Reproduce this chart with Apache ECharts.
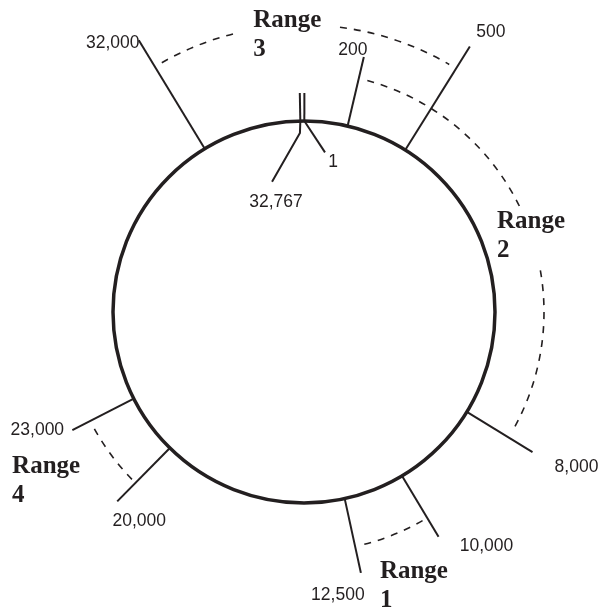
<!DOCTYPE html>
<html>
<head>
<meta charset="utf-8">
<script src="https://cdn.jsdelivr.net/npm/echarts@6/dist/echarts.min.js"></script>
<style>
  html, body { margin: 0; padding: 0; background: #fff; }
  #chart { width: 602px; height: 610px; }
</style>
</head>
<body>
<div id="chart"></div>
<script>
// ---- Data (dial positions; angle in degrees clockwise from top) ----
const tickLabels = ['1', '200', '500', '8,000', '10,000', '12,500', '20,000', '23,000', '32,000', '32,767'];
const tickAngles = [0.1, 13.2, 32.0, 121.5, 149.1, 167.7, 224.6, 243.0, 328.7, 358.9];
const tickOuterRadius = [219, 262, 313, 268, 262, 267, 266, 260, 318, 219];

// leader lines that run inside the ring for the wrap-around point
const leaderLabels = ['1', '32,767'];
const leaderPaths = [
  [[191, 0.1], [161, 7.5]],
  [[191, 358.9], [179, 358.7], [134, 346.2]]
];

const rangeNames = ['Range\n1', 'Range\n2', 'Range\n3', 'Range\n4'];
const rangeRadius = [240, 240, 287, 240];
const rangeStart = [150.4, 15.3, 330.3, 225.8];
const rangeEnd = [165.8, 119.2, 30.4, 241.4];
const rangeGapStart = [null, 64, 346.5, null];
const rangeGapEnd = [null, 80, 7.2, null];
// where each range label sits (radius, angle)
const rangeLabelRadius = [270.4, 213.2, 295.4, 330.3];
const rangeLabelAngle = [163.7, 64.9, 350.1, 242.1];

const RING_RADIUS = 191;

// ---- Styles ----
const INK = '#231f20';
const labelOffsets = {
  '1': [8, 10], '200': [-11, -7], '500': [21, -14], '8,000': [44, 15],
  '10,000': [48, 9], '12,500': [-23, 22], '20,000': [22, 20], '23,000': [-35, 0],
  '32,000': [-26, 3], '32,767': [4, 20]
};
const tickFont = '17.5px "Liberation Sans", Arial, sans-serif';
const rangeFont = 'bold 25px "Liberation Serif", "Times New Roman", serif';

const chart = echarts.init(document.getElementById('chart'), null, { renderer: 'canvas' });

function screenArc(api, r, a0, a1, style) {
  const c = api.coord([0, 0]);
  const p0 = api.coord([r, a0]);
  const p1 = api.coord([r, a1]);
  const rp = Math.hypot(p0[0] - c[0], p0[1] - c[1]);
  return {
    type: 'arc',
    shape: {
      cx: c[0], cy: c[1], r: rp,
      startAngle: Math.atan2(p0[1] - c[1], p0[0] - c[0]),
      endAngle: Math.atan2(p1[1] - c[1], p1[0] - c[0]),
      clockwise: true
    },
    style: style,
    silent: true
  };
}

const option = {
  animation: false,
  backgroundColor: '#ffffff',
  polar: { center: [304, 312], radius: 330 },
  radiusAxis: { type: 'value', min: 0, max: 330, show: false },
  angleAxis: { type: 'value', min: 0, max: 360, startAngle: 90, clockwise: true, show: false },
  series: [
    {
      // the ring
      type: 'custom',
      coordinateSystem: 'polar',
      data: [[RING_RADIUS, 0]],
      renderItem: function (params, api) {
        const c = api.coord([0, 0]);
        const p = api.coord([api.value(0), 0]);
        const rp = Math.hypot(p[0] - c[0], p[1] - c[1]);
        return {
          type: 'circle',
          shape: { cx: c[0], cy: c[1], r: rp },
          style: { fill: 'none', stroke: INK, lineWidth: 3.5 },
          silent: true
        };
      }
    },
    {
      // tick marks with their value labels
      type: 'custom',
      coordinateSystem: 'polar',
      data: tickLabels.map((l, i) => [tickOuterRadius[i], tickAngles[i]]),
      renderItem: function (params, api) {
        const i = params.dataIndex;
        const name = tickLabels[i];
        const a = api.value(1);
        const p0 = api.coord([RING_RADIUS, a]);
        const p1 = api.coord([api.value(0), a]);
        const children = [{
          type: 'line',
          shape: { x1: p0[0], y1: p0[1], x2: p1[0], y2: p1[1] },
          style: { stroke: INK, lineWidth: 2 }
        }];
        let anchor = p1;
        const li = leaderLabels.indexOf(name);
        if (li >= 0) {
          const pts = leaderPaths[li].map(d => api.coord(d));
          children.push({
            type: 'polyline',
            shape: { points: pts },
            style: { stroke: INK, lineWidth: 2, fill: 'none' }
          });
          anchor = pts[pts.length - 1];
        }
        const off = labelOffsets[name];
        children.push({
          type: 'text',
          style: {
            text: name,
            x: anchor[0] + off[0], y: anchor[1] + off[1],
            font: tickFont, fill: INK,
            align: 'center', verticalAlign: 'middle'
          }
        });
        return { type: 'group', children: children, silent: true };
      }
    },
    {
      // dashed range arcs
      type: 'custom',
      coordinateSystem: 'polar',
      data: rangeNames.map((n, i) => [rangeRadius[i], rangeStart[i], rangeEnd[i]]),
      renderItem: function (params, api) {
        const i = params.dataIndex;
        const r = api.value(0);
        const s = { stroke: INK, lineWidth: 1.6, fill: 'none', lineDash: [7, 7] };
        const children = [];
        if (rangeGapStart[i] != null) {
          children.push(screenArc(api, r, rangeStart[i], rangeGapStart[i], s));
          children.push(screenArc(api, r, rangeGapEnd[i], rangeEnd[i], s));
        } else {
          children.push(screenArc(api, r, rangeStart[i], rangeEnd[i], s));
        }
        return { type: 'group', children: children, silent: true };
      }
    },
    {
      // range labels
      type: 'custom',
      coordinateSystem: 'polar',
      data: rangeNames.map((n, i) => [rangeLabelRadius[i], rangeLabelAngle[i]]),
      renderItem: function (params, api) {
        const i = params.dataIndex;
        const p = api.coord([api.value(0), api.value(1)]);
        return {
          type: 'text',
          silent: true,
          style: {
            text: rangeNames[i],
            x: p[0], y: p[1] - 14.5,
            font: rangeFont, fill: INK,
            lineHeight: 29,
            align: 'left', verticalAlign: 'top'
          }
        };
      }
    }
  ]
};
chart.setOption(option);
</script>
</body>
</html>
